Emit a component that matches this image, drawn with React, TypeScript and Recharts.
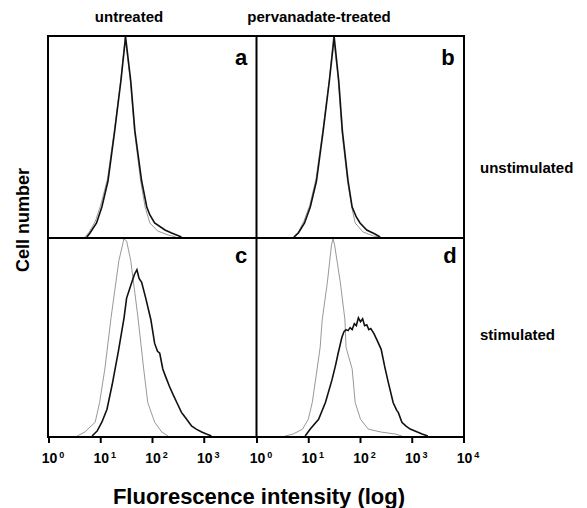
import React from 'react';
import { LineChart, Line, XAxis, YAxis } from 'recharts';

// fluorescence value, relative cell count (0-100)
type Pt = [number, number];

const aControl: Pt[] = [[5.0, 0], [6.0, 2.5], [7.9, 8], [10, 16], [13.5, 29], [18.2, 53], [24.5, 79], [29.5, 100], [37, 79], [44.7, 53], [59, 28], [72, 15], [89, 7], [126, 3], [200, 1], [282, 0]];
const aStained: Pt[] = [[5.4, 0], [6.2, 2], [8.3, 7], [10.5, 15], [13.8, 28], [18.6, 53], [24.5, 78], [30.2, 100], [38, 78], [45.7, 53], [61.7, 28], [77.6, 15], [89, 11], [110, 7], [174, 3.5], [234, 2], [363, 0]];

const bControl: Pt[] = [[5.0, 0], [6.3, 2.5], [8.1, 8], [10.5, 16], [13.8, 29], [18.6, 53], [25, 79], [30, 100], [37, 79], [43.6, 53], [56, 28], [67.6, 15], [79, 7], [112, 2.5], [178, 0.5], [224, 0]];
const bStained: Pt[] = [[5.2, 0], [6.3, 2], [8.3, 7], [10.7, 15], [14.1, 28], [19, 53], [25, 78], [31, 100], [38, 78], [44.7, 53], [57.5, 28], [69, 15], [83, 10], [98, 7], [132, 3.5], [190, 1.5], [240, 0]];

const cControl: Pt[] = [[3.5, 0], [4.9, 2], [7.8, 7], [9.5, 17], [12, 34], [15.8, 60], [22.4, 89], [28, 100], [31.6, 99], [38, 89], [52.5, 60], [67.6, 34], [81, 17], [110, 7], [151, 2], [200, 0]];
const cStained: Pt[] = [[6.8, 0], [8.5, 2.5], [10.5, 7], [13.2, 13.6], [16.6, 26], [21.9, 43], [28.2, 60], [31.6, 70], [39.8, 78], [44.7, 82], [50, 84.4], [55, 80], [61.7, 78], [74, 70], [93, 59], [110, 47], [125, 43], [138, 42], [158, 34], [180, 30], [214, 25], [250, 21], [295, 17], [363, 12], [400, 10.5], [457, 8.5], [520, 6.5], [575, 5], [700, 3.5], [891, 2], [1100, 1], [1380, 0]];

const dControl: Pt[] = [[3.5, 0], [5, 1], [7.6, 3.5], [9.8, 8.5], [11.7, 17], [14.5, 34], [16.6, 45], [18.2, 59], [22.9, 78], [27.5, 97], [29.5, 100], [31.6, 97], [40.7, 78], [50, 59], [52.5, 45], [69, 34], [79, 17], [100, 8.5], [141, 3.5], [251, 2], [468, 1], [631, 0]];
const dStained: Pt[] = [[8.5, 0], [10.7, 3.5], [15.5, 8.5], [21, 17], [28.2, 28.6], [33, 36], [37, 42], [43.6, 50], [48, 53], [52.5, 54], [57.5, 53.5], [63, 55], [69, 54], [76, 57], [83, 56], [91, 60], [100, 58], [110, 59.5], [120, 56], [132, 56.5], [145, 54], [158, 54.5], [182, 52], [214, 48], [251, 44], [295, 35], [339, 28], [427, 17], [501, 13], [537, 12], [631, 7], [759, 5], [912, 3.5], [1549, 1], [2000, 0]];

const decadesLeft = [1, 10, 100, 1000];
const decadesRight = [1, 10, 100, 1000, 10000];

const FONT = '"Liberation Sans", Arial, Helvetica, sans-serif';
const PAD = 24; // room for tick labels at the panel edges

const toRows = (pts: Pt[]) => pts.map(([x, y]) => ({ x, y }));

const DecadeTick = (props: any) => {
  const { x, y, payload } = props;
  const exp = Math.round(Math.log10(payload.value));
  return (
    <g>
      <line x1={x} x2={x} y1={y} y2={y + 7} stroke="#000" strokeWidth={2} />
      <text x={x + 4} y={y + 27} textAnchor="middle" fontSize={14} fontWeight="bold" fontFamily={FONT} fill="#000">
        10
        <tspan dx={2} dy={-5} fontSize={9}>{exp}</tspan>
      </text>
    </g>
  );
};

interface PanelProps {
  control: Pt[];
  stained: Pt[];
  left: number;
  top: number;
  height: number;
  ticks?: number[];
}

const Panel: React.FC<PanelProps> = ({ control, stained, left, top, height, ticks }) => {
  const axisH = ticks ? 32 : 0;
  return (
    <div style={{ position: 'absolute', left: left - PAD, top }}>
      <LineChart width={207 + PAD * 2} height={height + axisH} margin={{ top: 0, right: PAD, bottom: 0, left: PAD }}>
        <XAxis
          type="number"
          dataKey="x"
          scale="log"
          domain={[1, 10000]}
          allowDataOverflow
          hide={!ticks}
          ticks={ticks}
          height={axisH}
          axisLine={false}
          tickLine={false}
          tickSize={0}
          tickMargin={0}
          interval={0}
          tick={<DecadeTick />}
        />
        <YAxis hide domain={[0, 100]} />
        <Line data={toRows(control)} dataKey="y" type="linear" stroke="#8c8c8c" strokeWidth={0.9} dot={false} isAnimationActive={false} />
        <Line data={toRows(stained)} dataKey="y" type="linear" stroke="#111" strokeWidth={1.6} dot={false} isAnimationActive={false} />
      </LineChart>
    </div>
  );
};

const bold = { fontFamily: FONT, fontWeight: 'bold' as const, fill: '#000' };

export default function App() {
  return (
    <div style={{ position: 'absolute', left: 0, top: 0, width: 587, height: 508, background: '#fff', overflow: 'hidden' }}>
      <Panel control={aControl} stained={aStained} left={49} top={37} height={200} />
      <Panel control={bControl} stained={bStained} left={257} top={37} height={200} />
      <Panel control={cControl} stained={cStained} left={49} top={239} height={197} ticks={decadesLeft} />
      <Panel control={dControl} stained={dStained} left={257} top={239} height={197} ticks={decadesRight} />

      <svg width={587} height={508} style={{ position: 'absolute', left: 0, top: 0, pointerEvents: 'none' }}>
        <rect x={48} y={36} width={416} height={401} fill="none" stroke="#000" strokeWidth={2} />
        <line x1={256.5} x2={256.5} y1={36} y2={437} stroke="#000" strokeWidth={2} />
        <line x1={48} x2={464} y1={238} y2={238} stroke="#000" strokeWidth={2} />

        <text x={129} y={22} textAnchor="middle" fontSize={15} {...bold}>untreated</text>
        <text x={319} y={22} textAnchor="middle" fontSize={15} {...bold}>pervanadate-treated</text>
        <text x={480} y={173} fontSize={15} {...bold}>unstimulated</text>
        <text x={480} y={340} fontSize={15} {...bold}>stimulated</text>

        <text x={241} y={65} textAnchor="middle" fontSize={22} {...bold}>a</text>
        <text x={448} y={65} textAnchor="middle" fontSize={22} {...bold}>b</text>
        <text x={241} y={263} textAnchor="middle" fontSize={22} {...bold}>c</text>
        <text x={450} y={263} textAnchor="middle" fontSize={22} {...bold}>d</text>

        <text transform="translate(29,220) rotate(-90)" textAnchor="middle" fontSize={18} {...bold}>Cell number</text>
        <text x={259} y={504} textAnchor="middle" fontSize={22} {...bold}>Fluorescence intensity (log)</text>
      </svg>
    </div>
  );
}
